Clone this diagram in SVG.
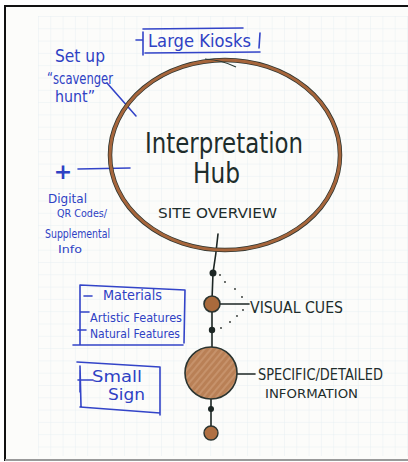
<svg xmlns="http://www.w3.org/2000/svg" width="408" height="462" viewBox="0 0 408 462">
  <defs>
    <pattern id="grid" x="38" y="16" width="12.3" height="12.3" patternUnits="userSpaceOnUse">
      <path d="M0 0 H12.3 M0 0 V12.3" fill="none" stroke="#e2edf2" stroke-width="0.8"/>
    </pattern>
    <pattern id="streak" width="5" height="5" patternUnits="userSpaceOnUse" patternTransform="rotate(-50)">
      <rect width="5" height="5" fill="#b98056"/>
      <path d="M0 1 H5" stroke="#d4a57f" stroke-width="1"/>
    </pattern>
  </defs>
  <style>
    .blue { fill: #2e41c4; font-family: "DejaVu Sans", "Liberation Sans", sans-serif; }
    .ink { fill: #1e2d2c; font-family: "DejaVu Sans", "Liberation Sans", sans-serif; }
    .bl { stroke: #3344c8; stroke-width: 1.6; fill: none; stroke-linecap: round; }
    .kl { stroke: #1c2624; stroke-width: 1.6; fill: none; stroke-linecap: round; }
    .dot { fill: #1c2624; }
    .sp { fill: #2a302c; }
  </style>

  <!-- paper and frame -->
  <rect x="0" y="0" width="408" height="462" fill="#ffffff"/>
  <rect x="5" y="6" width="403" height="454" fill="#fcfcfa"/>
  <rect x="38" y="16" width="370" height="440" fill="url(#grid)"/>
  <line x1="4" y1="6" x2="408" y2="6" stroke="#111" stroke-width="2"/>
  <line x1="5" y1="5" x2="5" y2="461" stroke="#111" stroke-width="2"/>
  <line x1="5" y1="460" x2="408" y2="460" stroke="#9a9a9a" stroke-width="2"/>

  <!-- connectors -->
  <g id="connectors">
    <line class="bl" x1="107" y1="83" x2="136" y2="116" stroke-width="1.2"/>
    <line class="bl" x1="78" y1="169" x2="130" y2="168" stroke-width="1.2"/>
    <path class="kl" d="M218 234 Q216 255 213 273 L212 300 M212 311 L212 348 M211 398 L211 427" stroke-width="2"/>
    <line class="kl" x1="220" y1="304" x2="249" y2="304" stroke-width="1.2"/>
    <line class="kl" x1="228" y1="374" x2="255" y2="374" stroke-width="1.2"/>
    <g class="sp">
      <circle cx="220" cy="275" r="0.9"/>
      <circle cx="225" cy="282" r="0.9"/>
      <circle cx="235" cy="289" r="0.9"/>
      <circle cx="242" cy="297" r="0.9"/>
      <circle cx="243" cy="310" r="0.9"/>
      <circle cx="237" cy="316" r="0.9"/>
      <circle cx="230" cy="322" r="0.9"/>
      <circle cx="221" cy="328" r="0.9"/>
    </g>
  </g>

  <!-- hub -->
  <g id="hub">
    <ellipse cx="225" cy="155" rx="115" ry="95" fill="none" stroke="#2e3530" stroke-width="4.5"/>
    <ellipse cx="225" cy="155" rx="115" ry="95" fill="none" stroke="#a6653b" stroke-width="3"/>
    <path d="M205 59 Q222 60 236 67" fill="none" stroke="#2b3a35" stroke-width="1.2"/>
    <text class="ink" x="145" y="153" font-size="28" textLength="158" lengthAdjust="spacingAndGlyphs">Interpretation</text>
    <text class="ink" x="193" y="183" font-size="28" textLength="47" lengthAdjust="spacingAndGlyphs">Hub</text>
    <text class="ink" x="158" y="218" font-size="14" textLength="119" lengthAdjust="spacingAndGlyphs">SITE OVERVIEW</text>
  </g>

  <!-- large kiosks -->
  <g id="kiosks">
    <path class="bl" d="M143 29 L243 28 M143 32 L143 55 M145 53 L260 52 M260 33 L259 48 M136 40 L143 40"/>
    <text class="blue" x="148" y="47" font-size="17" textLength="103" lengthAdjust="spacingAndGlyphs">Large Kiosks</text>
  </g>

  <!-- scavenger hunt -->
  <g id="scavenger">
    <text class="blue" x="55" y="62" font-size="17" textLength="50" lengthAdjust="spacingAndGlyphs">Set up</text>
    <text class="blue" x="47" y="84" font-size="16" textLength="66" lengthAdjust="spacingAndGlyphs">“scavenger</text>
    <text class="blue" x="55" y="102" font-size="16" textLength="40" lengthAdjust="spacingAndGlyphs">hunt”</text>
  </g>

  <!-- digital -->
  <g id="digital">
    <text class="blue" x="63" y="179" font-size="22" font-weight="bold" text-anchor="middle">+</text>
    <text class="blue" x="48" y="203" font-size="13" textLength="39" lengthAdjust="spacingAndGlyphs">Digital</text>
    <text class="blue" x="57" y="217" font-size="11" textLength="50" lengthAdjust="spacingAndGlyphs">QR Codes/</text>
    <text class="blue" x="45" y="238" font-size="12" textLength="65" lengthAdjust="spacingAndGlyphs">Supplemental</text>
    <text class="blue" x="58" y="253" font-size="11" textLength="24" lengthAdjust="spacingAndGlyphs">Info</text>
  </g>

  <!-- visual cues -->
  <g id="visual-cues">
    <circle class="dot" cx="213" cy="273" r="3.5"/>
    <circle cx="212" cy="304" r="8" fill="#a96a3c" stroke="#2b3430" stroke-width="1.6"/>
    <circle class="dot" cx="212" cy="330" r="3.2"/>
    <text class="ink" x="250" y="313" font-size="15" textLength="93" lengthAdjust="spacingAndGlyphs">VISUAL CUES</text>
  </g>

  <!-- specific info -->
  <g id="specific">
    <circle cx="211" cy="373" r="26" fill="url(#streak)" stroke="#2b3430" stroke-width="1.6"/>
    <circle class="dot" cx="211" cy="409" r="3"/>
    <text class="ink" x="258" y="380" font-size="15" textLength="125" lengthAdjust="spacingAndGlyphs">SPECIFIC/DETAILED</text>
    <text class="ink" x="265" y="398" font-size="12" textLength="93" lengthAdjust="spacingAndGlyphs">INFORMATION</text>
  </g>

  <!-- end node -->
  <g id="end">
    <circle cx="211" cy="433" r="7" fill="#b07043" stroke="#2b3430" stroke-width="1.4"/>
  </g>

  <!-- materials box -->
  <g id="features">
    <path class="bl" d="M80 285 L185 290 M80 285 L80 345 M185 290 L184 343 M73 345 L183 345 M84 296 L92 296 M80 312 L89 312 M78 330 L86 330"/>
    <text class="blue" x="103" y="300" font-size="14" textLength="59" lengthAdjust="spacingAndGlyphs">Materials</text>
    <text class="blue" x="90" y="322" font-size="13" textLength="92" lengthAdjust="spacingAndGlyphs">Artistic Features</text>
    <text class="blue" x="90" y="338" font-size="13" textLength="90" lengthAdjust="spacingAndGlyphs">Natural Features</text>
  </g>

  <!-- small sign -->
  <g id="small-sign">
    <path class="bl" d="M77 362 L160 367 M160 367 L160 415 M80 366 L81 406 M80 407 L160 413 M80 370 L80 392 M78 380 L93 380"/>
    <text class="blue" x="92" y="382" font-size="15" textLength="50" lengthAdjust="spacingAndGlyphs">Small</text>
    <text class="blue" x="108" y="400" font-size="15" textLength="37" lengthAdjust="spacingAndGlyphs">Sign</text>
  </g>
</svg>
